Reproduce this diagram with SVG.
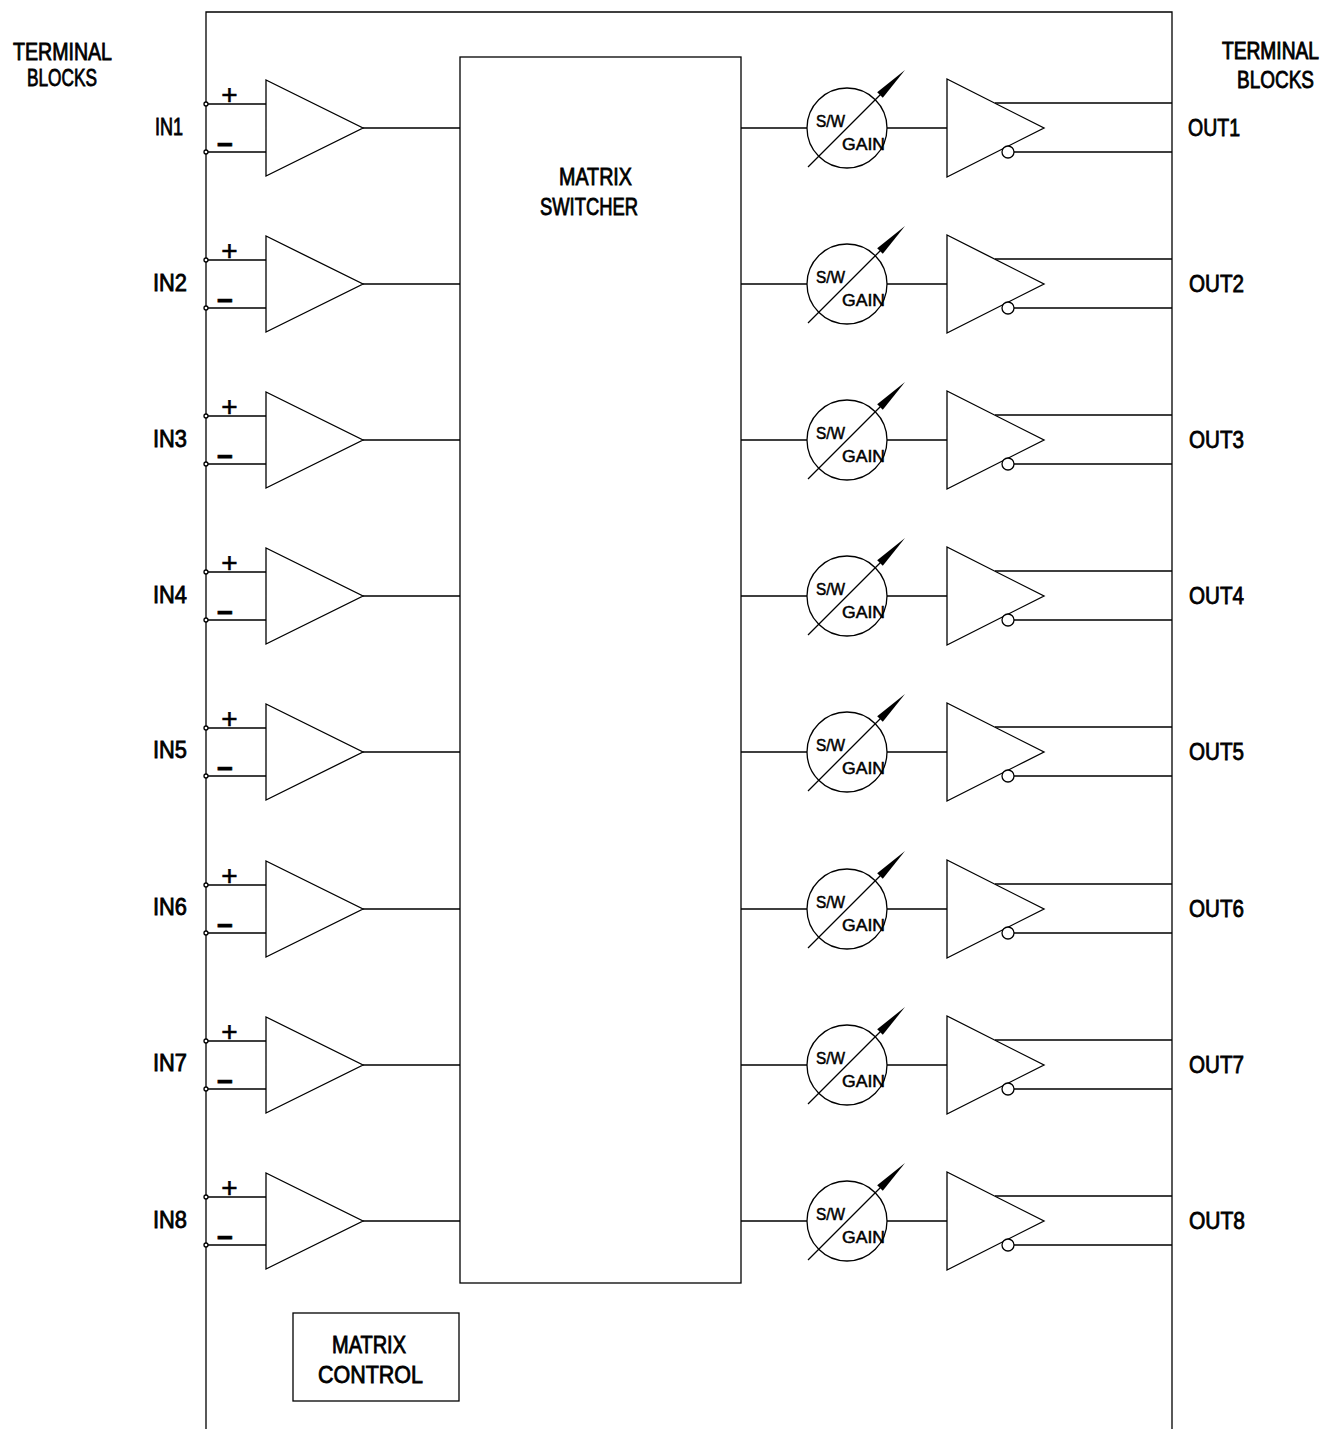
<svg xmlns="http://www.w3.org/2000/svg" xmlns:xlink="http://www.w3.org/1999/xlink" width="1328" height="1429" viewBox="0 0 1328 1429">
<style>
.ln{fill:none;stroke:#000;stroke-width:1.3}
.sh{fill:#fff;stroke:#000;stroke-width:1.3}
.t{font-family:"Liberation Sans",Arial,sans-serif;font-size:23px;fill:#000;stroke:#000;stroke-width:0.8}
.ts{font-family:"Liberation Sans",Arial,sans-serif;font-size:16px;fill:#000;stroke:#000;stroke-width:0.5}
.pm{font-family:"Liberation Sans",Arial,sans-serif;fill:#000;text-anchor:middle;stroke:#000;stroke-width:0.6}
.dot{fill:#fff;stroke:#000;stroke-width:1.3}
</style>
<defs>
<g id="amp"><polygon class="sh" points="266,80 266,176 363,128"/></g>
<g id="gain">
<circle class="sh" cx="847" cy="128" r="40"/>
<line class="ln" x1="808" y1="167" x2="886" y2="89"/>
<polygon points="905,70 877.2,92.2 882.8,97.8" fill="#000"/>
<text class="ts" x="816" y="127" textLength="29" lengthAdjust="spacingAndGlyphs">S/W</text>
<text class="ts" x="842" y="150" textLength="43" lengthAdjust="spacingAndGlyphs">GAIN</text>
</g>
<g id="drv">
<polygon class="sh" points="947,79 947,177 1044,128"/>
<circle class="sh" cx="1008" cy="152" r="6"/>
</g>
<g id="wires">
<path class="ln" d="M206,104H266M206,152H266M363,128H460M741,128H807M887,128H947M995,103H1172M1014,152H1172"/>
<circle class="dot" cx="206" cy="104" r="2"/>
<circle class="dot" cx="206" cy="152" r="2"/>
<text class="pm" x="229.5" y="104" font-size="28">+</text>
<text class="pm" x="225" y="154" font-size="28" font-weight="bold">−</text>
</g>
</defs>

<g id="frame">
<path class="ln" d="M206,1429V12H1172V1429"/>
</g>

<g id="labels-terminal">
<text class="t" x="13" y="60" textLength="99" lengthAdjust="spacingAndGlyphs">TERMINAL</text>
<text class="t" x="27" y="86" textLength="70" lengthAdjust="spacingAndGlyphs">BLOCKS</text>
<text class="t" x="1222" y="59" style="font-size:20px" textLength="97" lengthAdjust="spacingAndGlyphs" transform="translate(0,59) scale(1,1.15) translate(0,-59)">TERMINAL</text>
<text class="t" x="1237" y="88" textLength="77" lengthAdjust="spacingAndGlyphs">BLOCKS</text>
</g>

<g id="connectors">
<use xlink:href="#wires" y="0"/>
<use xlink:href="#wires" y="156"/>
<use xlink:href="#wires" y="312"/>
<use xlink:href="#wires" y="468"/>
<use xlink:href="#wires" y="624"/>
<use xlink:href="#wires" y="781"/>
<use xlink:href="#wires" y="937"/>
<use xlink:href="#wires" y="1093"/>
</g>

<g id="matrix-switcher">
<rect class="sh" x="460" y="57" width="281" height="1226"/>
<text class="t" x="559" y="185" textLength="73" lengthAdjust="spacingAndGlyphs">MATRIX</text>
<text class="t" x="540" y="215" textLength="98" lengthAdjust="spacingAndGlyphs">SWITCHER</text>
</g>

<g id="matrix-control">
<rect class="sh" x="293" y="1313" width="166" height="88"/>
<text class="t" x="332" y="1353" textLength="74" lengthAdjust="spacingAndGlyphs">MATRIX</text>
<text class="t" x="318" y="1383" textLength="105" lengthAdjust="spacingAndGlyphs">CONTROL</text>
</g>

<g id="in1"><use xlink:href="#amp" y="0"/><text class="t" x="155" y="135" textLength="28" lengthAdjust="spacingAndGlyphs">IN1</text></g>
<g id="in2"><use xlink:href="#amp" y="156"/><text class="t" x="153" y="291" textLength="34" lengthAdjust="spacingAndGlyphs">IN2</text></g>
<g id="in3"><use xlink:href="#amp" y="312"/><text class="t" x="153" y="447" textLength="34" lengthAdjust="spacingAndGlyphs">IN3</text></g>
<g id="in4"><use xlink:href="#amp" y="468"/><text class="t" x="153" y="603" textLength="34" lengthAdjust="spacingAndGlyphs">IN4</text></g>
<g id="in5"><use xlink:href="#amp" y="624"/><text class="t" x="153" y="758" textLength="34" lengthAdjust="spacingAndGlyphs">IN5</text></g>
<g id="in6"><use xlink:href="#amp" y="781"/><text class="t" x="153" y="915" textLength="34" lengthAdjust="spacingAndGlyphs">IN6</text></g>
<g id="in7"><use xlink:href="#amp" y="937"/><text class="t" x="153" y="1071" textLength="34" lengthAdjust="spacingAndGlyphs">IN7</text></g>
<g id="in8"><use xlink:href="#amp" y="1093"/><text class="t" x="153" y="1228" textLength="34" lengthAdjust="spacingAndGlyphs">IN8</text></g>

<g id="gain1"><use xlink:href="#gain" y="0"/></g>
<g id="gain2"><use xlink:href="#gain" y="156"/></g>
<g id="gain3"><use xlink:href="#gain" y="312"/></g>
<g id="gain4"><use xlink:href="#gain" y="468"/></g>
<g id="gain5"><use xlink:href="#gain" y="624"/></g>
<g id="gain6"><use xlink:href="#gain" y="781"/></g>
<g id="gain7"><use xlink:href="#gain" y="937"/></g>
<g id="gain8"><use xlink:href="#gain" y="1093"/></g>

<g id="out1"><use xlink:href="#drv" y="0"/><text class="t" x="1188" y="136" textLength="52" lengthAdjust="spacingAndGlyphs">OUT1</text></g>
<g id="out2"><use xlink:href="#drv" y="156"/><text class="t" x="1189" y="292" textLength="55" lengthAdjust="spacingAndGlyphs">OUT2</text></g>
<g id="out3"><use xlink:href="#drv" y="312"/><text class="t" x="1189" y="448" textLength="55" lengthAdjust="spacingAndGlyphs">OUT3</text></g>
<g id="out4"><use xlink:href="#drv" y="468"/><text class="t" x="1189" y="604" textLength="55" lengthAdjust="spacingAndGlyphs">OUT4</text></g>
<g id="out5"><use xlink:href="#drv" y="624"/><text class="t" x="1189" y="760" textLength="55" lengthAdjust="spacingAndGlyphs">OUT5</text></g>
<g id="out6"><use xlink:href="#drv" y="781"/><text class="t" x="1189" y="917" textLength="55" lengthAdjust="spacingAndGlyphs">OUT6</text></g>
<g id="out7"><use xlink:href="#drv" y="937"/><text class="t" x="1189" y="1073" textLength="55" lengthAdjust="spacingAndGlyphs">OUT7</text></g>
<g id="out8"><use xlink:href="#drv" y="1093"/><text class="t" x="1189" y="1229" textLength="56" lengthAdjust="spacingAndGlyphs">OUT8</text></g>
</svg>
